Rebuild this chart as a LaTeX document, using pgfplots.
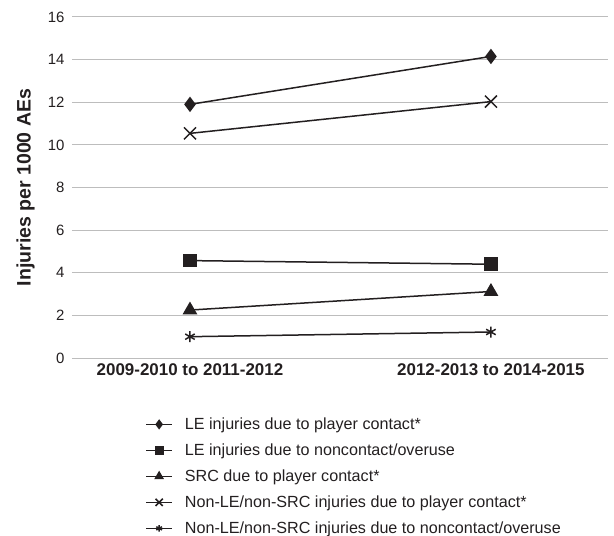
\documentclass[border=0pt]{standalone}
\usepackage{pgfplots}
\pgfplotsset{compat=1.18}
\usepackage{fontspec}
\setmainfont{Liberation Sans}
\definecolor{ln}{HTML}{231F20}
\definecolor{grd}{HTML}{BDBDBD}
\definecolor{txt}{HTML}{231F20}
\begin{document}
\begin{tikzpicture}
\begin{axis}[
  scale only axis, width=536bp, height=341bp,
  xmin=-0.392, xmax=1.389, ymin=0, ymax=16,
  ytick={0,2,...,16},
  xtick={0,1},
  xticklabels={2009-2010 to 2011-2012, 2012-2013 to 2014-2015},
  axis line style={draw=none},
  major tick length=0pt,
  ymajorgrids, grid style={grd, line width=1bp},
  /pgf/number format/assume math mode=true,
  yticklabel style={font=\fontsize{15}{17}\selectfont, text=txt, xshift=-4bp},
  xticklabel style={font=\fontsize{17}{19}\selectfont\bfseries, text=txt, yshift=-2bp},
  ylabel={Injuries per 1000 AEs},
  ylabel style={font=\fontsize{19.6}{22}\selectfont\bfseries, text=txt, at={(axis description cs:-0.063,0.5)}, anchor=south, rotate=0},
  legend style={at={(axis description cs:0.131,-0.166)}, anchor=north west, draw=none, fill=none,
    font=\fontsize{16.2}{18}\selectfont, text=txt, row sep=10.8bp, column sep=11bp,
    nodes={inner sep=1bp}},
  legend cell align=left,
  legend image code/.code={\draw[mark repeat=2, mark phase=2, /tikz/every mark/.append style={scale=0.6}] plot coordinates {(0bp,0bp) (13bp,0bp) (26bp,0bp)};},
  clip=false,
]
\addplot[color=ln, line width=1.5bp, mark=diamond*, mark size=6.5bp] coordinates {(0,11.9) (1,14.15)};
\addlegendentry{LE injuries due to player contact*}
\addplot[color=ln, line width=1.5bp, mark=square*, mark size=6bp] coordinates {(0,4.57) (1,4.4)};
\addlegendentry{LE injuries due to noncontact/overuse}
\addplot[color=ln, line width=1.5bp, mark=triangle*, mark size=7bp] coordinates {(0,2.25) (1,3.12)};
\addlegendentry{SRC due to player contact*}
\addplot[color=ln, line width=1.5bp, mark=x, mark size=8.5bp] coordinates {(0,10.54) (1,12.03)};
\addlegendentry{Non-LE/non-SRC injuries due to player contact*}
\addplot[color=ln, line width=1.5bp, mark=asterisk, mark size=5.5bp] coordinates {(0,1.0) (1,1.22)};
\addlegendentry{Non-LE/non-SRC injuries due to noncontact/overuse}
\end{axis}
\pgfresetboundingbox
\path ([shift={(-72bp,-178bp)}]current axis.south west) rectangle ([shift={(6bp,17bp)}]current axis.north east);
\end{tikzpicture}
\end{document}
